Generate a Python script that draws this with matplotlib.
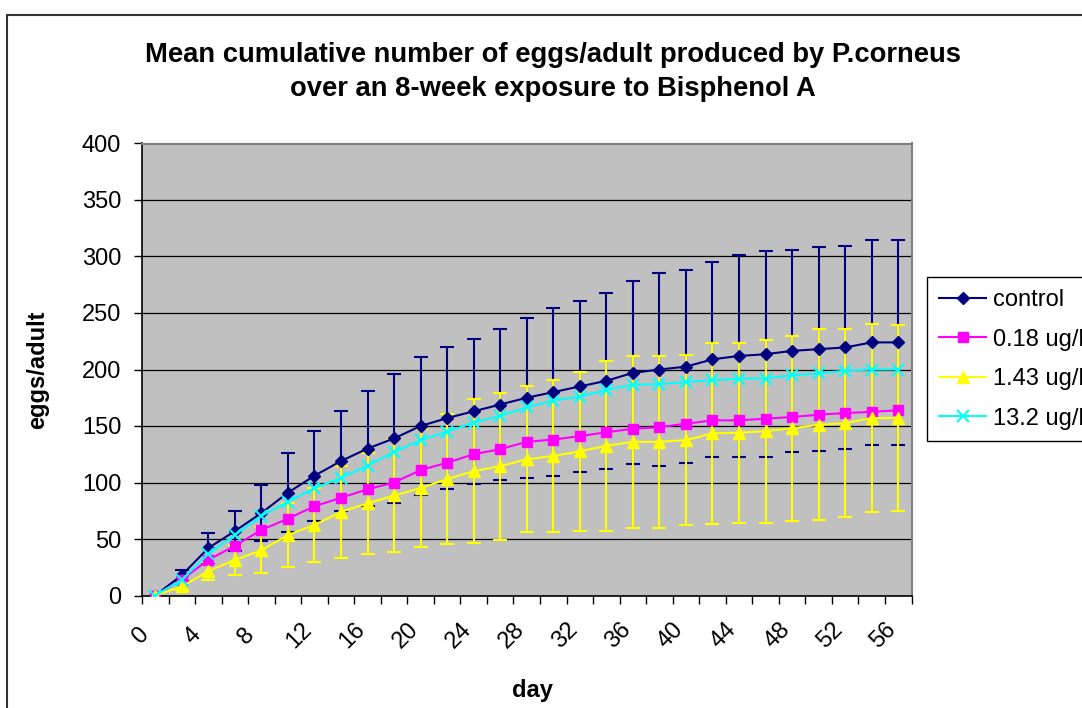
import matplotlib
matplotlib.use("Agg")
import matplotlib.pyplot as plt
import matplotlib.patches as mpatches
import matplotlib.transforms as mtransforms
import numpy as np

plt.rcParams["font.family"] = ["Liberation Sans", "DejaVu Sans"]

# ---- data ----
days = [0, 2, 4, 6, 8, 10, 12, 14, 16, 18, 20, 22, 24, 26, 28,
        30, 32, 34, 36, 38, 40, 42, 44, 46, 48, 50, 52, 54, 56]
control = [0, 18, 42, 57, 73, 91, 106, 119, 130, 139, 150, 157, 163, 169, 175,
           180, 185, 190, 197, 200, 202.5, 209, 212, 213.5, 216.5, 218, 219.5, 224, 224]
control_err = [0, 5, 13, 18, 25, 35, 40, 44, 51, 57, 61, 63, 64, 67, 71,
               74, 76, 78, 81, 85, 85.5, 86.5, 89.5, 91, 89.5, 90, 90, 91, 91]
dose_018 = [0, 14, 31.5, 44, 58, 68, 79, 86.5, 94, 100, 111, 117.5, 125, 129.5, 136,
            138, 141, 144.5, 147.5, 149, 152, 155, 155, 156.5, 158, 160, 161.5, 162.5, 164]
dose_143 = [0, 8, 21.5, 31.5, 40, 53.5, 62.5, 74, 81.5, 88.5, 95, 103, 110, 114.5, 120.5,
            123.5, 127.5, 132.5, 136, 136, 137.5, 143.5, 144, 145.5, 148, 151, 152.5, 157, 157]
dose_143_err = [0, 3, 8, 13, 20.5, 28, 32.5, 41, 45, 50, 52.5, 57.5, 63.5, 65, 64.5,
                67.5, 70, 75, 76, 76, 75.5, 80, 79.5, 81, 82, 84.5, 83, 83, 82]
dose_132 = [0, 14, 37, 53.5, 70.5, 83, 95, 104, 115, 127, 137.5, 145, 153, 159, 166.5,
            172.5, 176, 182, 186.5, 187, 189, 190.5, 192, 192, 195, 196.5, 199, 200, 200]

labels = ["control", "0.18 ug/l", "1.43 ug/l", "13.2 ug/l"]
day_ticks = [0, 4, 8, 12, 16, 20, 24, 28, 32, 36, 40, 44, 48, 52, 56]
y_ticks = [0, 50, 100, 150, 200, 250, 300, 350, 400]

W, H = 1082, 708
FS = 17

fig = plt.figure(figsize=(W / 100, H / 100), dpi=100)
fig.patch.set_facecolor("white")
ax = fig.add_axes([142 / W, 1 - 595.5 / H, (911.5 - 142) / W, (595.5 - 143.5) / H])
ax.set_facecolor("#C0C0C0")

# error bars (control first, 1.43 on top of it)
ax.errorbar(days, control, yerr=control_err, fmt="none", ecolor="#000080",
            elinewidth=1.5, capsize=4.8, capthick=1.5, zorder=2)
ax.errorbar(days, dose_143, yerr=dose_143_err, fmt="none", ecolor="#FFFF00",
            elinewidth=1.5, capsize=4.8, capthick=1.5, zorder=2.1)

h1, = ax.plot(days, control, color="#000080", lw=1.5, marker="D", ms=6.3,
              mfc="#000080", mec="#000080", zorder=3)
h2, = ax.plot(days, dose_018, color="#FF00FF", lw=1.5, marker="s", ms=7.5,
              mfc="#FF00FF", mec="#FF00FF", zorder=3.1)
h3, = ax.plot(days, dose_143, color="#FFFF00", lw=1.5, marker="^", ms=8.5,
              mfc="#FFFF00", mec="#FFFF00", zorder=3.2)
h4, = ax.plot(days, dose_132, color="#00FFFF", lw=1.5, marker="x", ms=9,
              mew=1.5, zorder=3.3)

ax.set_xlim(-1, 57)
ax.set_ylim(0, 400)
ax.set_yticks(y_ticks)
ax.yaxis.grid(True, color="black", lw=0.9)
ax.set_axisbelow(True)

ax.set_xticks(day_ticks)
ax.set_xticklabels([str(d) for d in day_ticks], rotation=45, ha="center", va="center")
ax.set_xticks(np.arange(-1, 58, 2), minor=True)
ax.tick_params(axis="x", which="major", length=0, pad=29, labelsize=FS)
ax.tick_params(axis="x", which="minor", length=6, width=1, color="black")
ax.tick_params(axis="y", length=6, width=1, pad=9, labelsize=FS)

shift = mtransforms.ScaledTranslation(-15 / 100, 0, fig.dpi_scale_trans)
for lab in ax.get_xticklabels():
    lab.set_transform(lab.get_transform() + shift)

for side in ["top", "right"]:
    ax.spines[side].set_color("#808080")
    ax.spines[side].set_linewidth(1.5)
ax.spines["left"].set_color("black")
ax.spines["left"].set_linewidth(1.2)
ax.spines["bottom"].set_color("black")
ax.spines["bottom"].set_linewidth(1.2)

# titles
fig.text(553 / W, 1 - 72 / H,
         "Mean cumulative number of eggs/adult produced by P.corneus\n"
         "over an 8-week exposure to Bisphenol A",
         ha="center", va="center", fontsize=19.7, fontweight="bold", linespacing=1.45)
fig.text(38 / W, 1 - 370 / H, "eggs/adult", rotation=90, ha="center", va="center",
         fontsize=FS, fontweight="bold")
fig.text(532 / W, 1 - 690 / H, "day", ha="center", va="center",
         fontsize=FS, fontweight="bold")

leg = ax.legend([h1, h2, h3, h4], labels, loc="upper left",
                bbox_to_anchor=(927.3 / W, 1 - 277.3 / H), bbox_transform=fig.transFigure,
                fontsize=FS, frameon=True, fancybox=False, framealpha=1,
                edgecolor="black", borderpad=0.5, handlelength=2.0,
                handletextpad=0.3, labelspacing=0.74, borderaxespad=0)
leg.get_frame().set_linewidth(1)

# outer chart border (runs off right and bottom edges)
fig.add_artist(mpatches.Rectangle((6.5 / W, -0.1), 2, 1.1 - 15 / H, transform=fig.transFigure,
                                  fill=False, edgecolor="#333333", lw=1.5))

fig.savefig("out.png", dpi=100, facecolor=fig.get_facecolor())
